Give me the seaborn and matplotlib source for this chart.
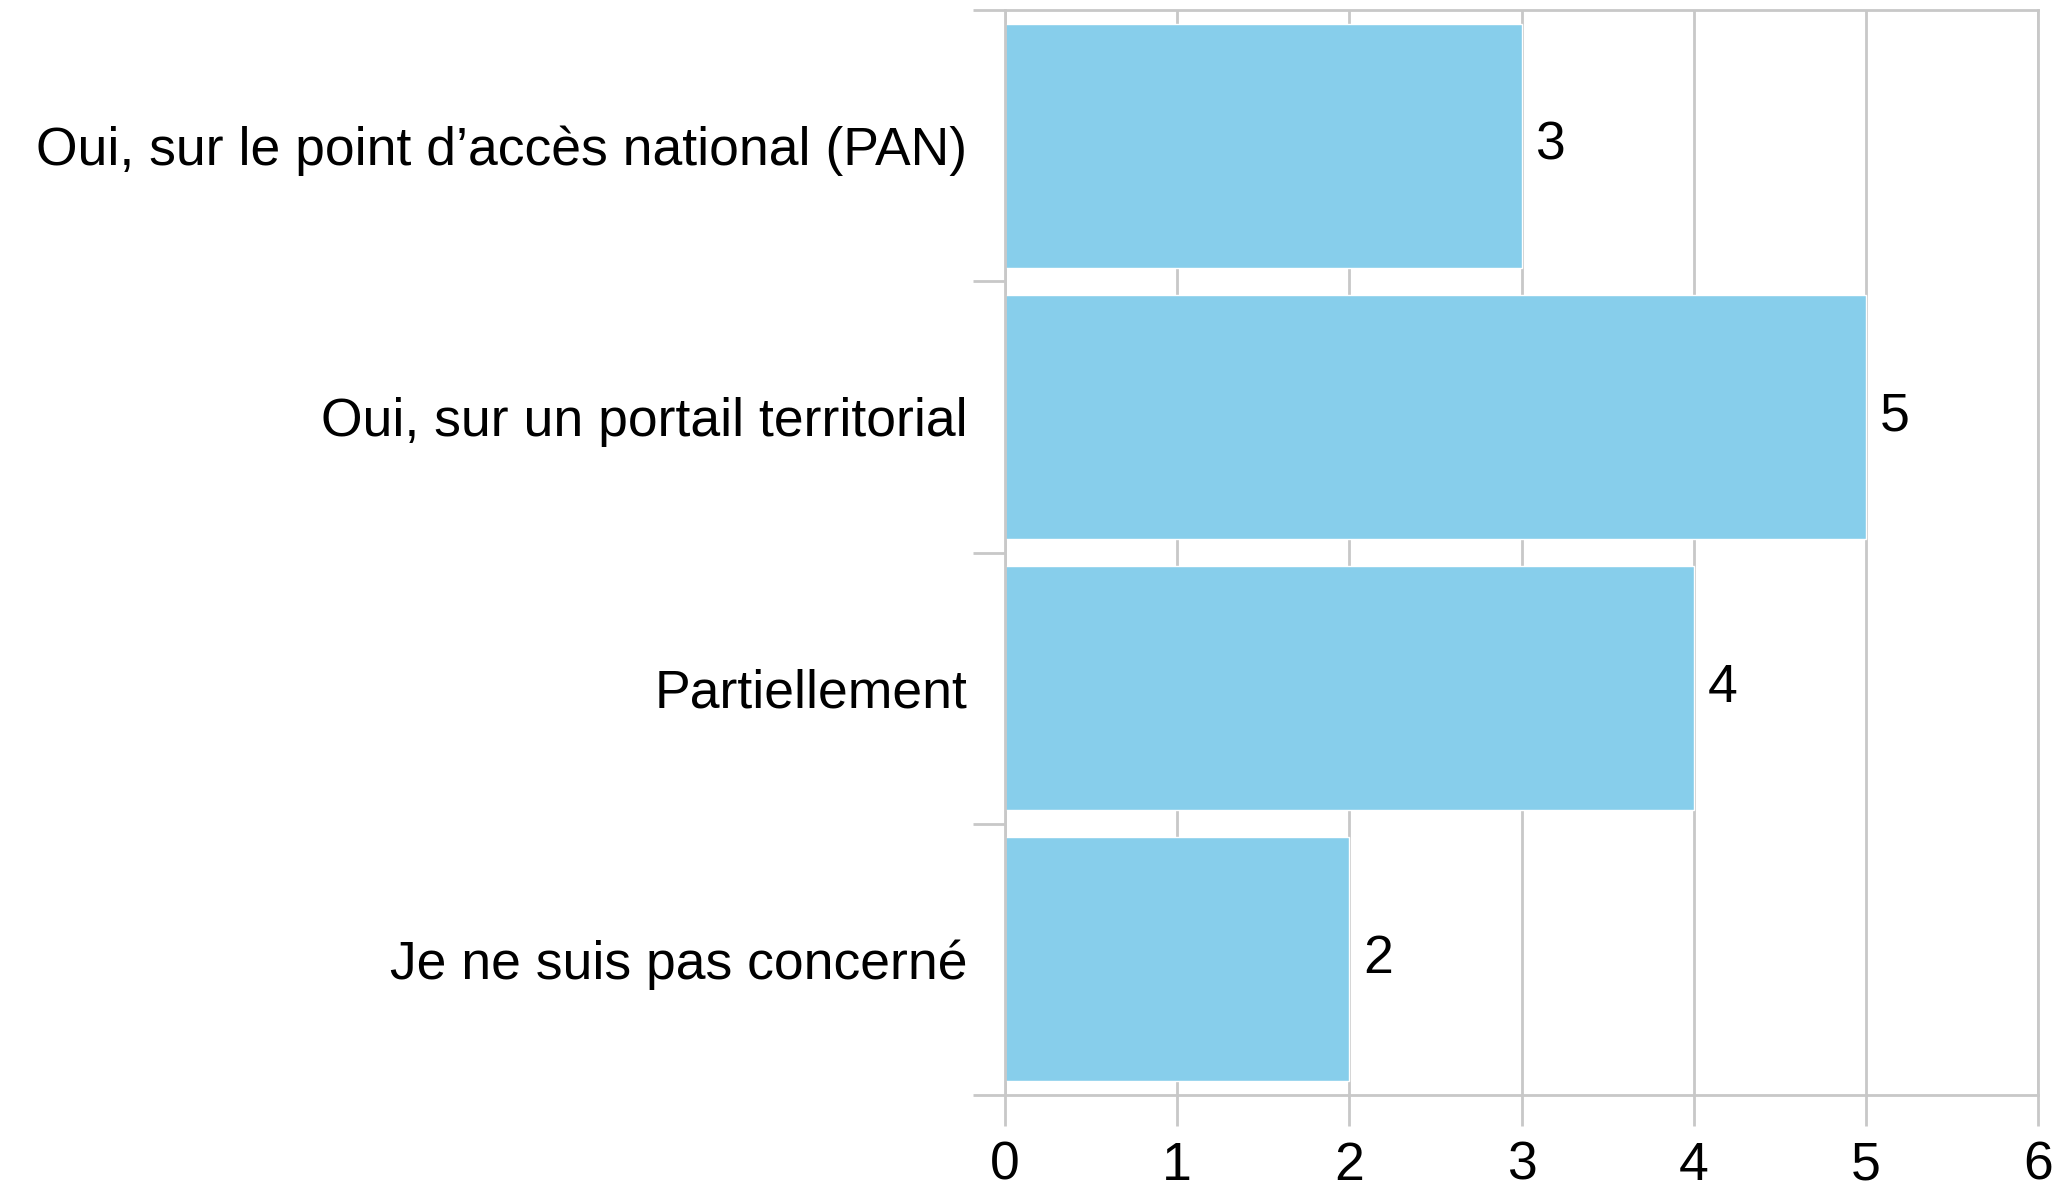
import matplotlib
matplotlib.use("Agg")
import matplotlib.pyplot as plt
import seaborn as sns
import pandas as pd
import numpy as np

categories = ["Oui, sur le point d’accès national (PAN)",
              "Oui, sur un portail territorial",
              "Partiellement",
              "Je ne suis pas concerné"]
values = [3, 5, 4, 2]
xticks = [0, 1, 2, 3, 4, 5, 6]

sns.set_theme(style="white")
plt.rcParams['font.family'] = ['Liberation Sans', 'DejaVu Sans']

df = pd.DataFrame({"cat": categories, "val": values})

fig = plt.figure(figsize=(20.62, 11.87), dpi=100)
ax = fig.add_axes([1005/2062, 1 - 1095/1187, (2038-1005)/2062, (1095-10)/1187])

sns.barplot(data=df, y="cat", x="val", orient="h", color="#87CEEB",
            saturation=1, width=0.9, ax=ax, zorder=2)

grid_c = "#c8c8c8"
fs = 38.5
ax.set_xlim(0, 6)
ax.set_ylim(len(categories) - 0.5, -0.5)
ax.set_xticks(xticks)
ax.set_xticklabels([str(t) for t in xticks])
ax.xaxis.grid(True, color=grid_c, linewidth=2, zorder=0)
ax.set_axisbelow(True)

# y ticks at category boundaries, labels at centres
ax.set_yticks(np.arange(-0.5, len(categories), 1.0))
ax.set_yticklabels([])
ax.set_yticks(np.arange(len(categories)), minor=True)
ax.set_yticklabels(categories, minor=True)
ax.tick_params(axis="y", which="major", length=23, width=2, color=grid_c, left=True)
ax.tick_params(axis="y", which="minor", length=0, pad=27, labelsize=fs, labelcolor="black")
ax.tick_params(axis="x", which="major", length=22, width=2, color=grid_c, bottom=True,
               pad=11, labelsize=fs, labelcolor="black")

for s in ax.spines.values():
    s.set_color(grid_c)
    s.set_linewidth(2)
    s.set_visible(True)

ax.set_xlabel("")
ax.set_ylabel("")

for cont in ax.containers:
    ax.bar_label(cont, labels=[str(v) for v in values], padding=10, fontsize=fs, color="black")

fig.savefig("out.png", dpi=100)
